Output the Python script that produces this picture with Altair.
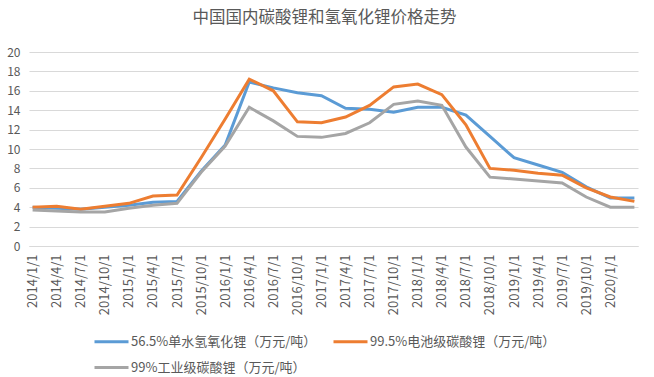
import altair as alt
import pandas as pd

dates = ["2014/1/1", "2014/4/1", "2014/7/1", "2014/10/1",
         "2015/1/1", "2015/4/1", "2015/7/1", "2015/10/1",
         "2016/1/1", "2016/4/1", "2016/7/1", "2016/10/1",
         "2017/1/1", "2017/4/1", "2017/7/1", "2017/10/1",
         "2018/1/1", "2018/4/1", "2018/7/1", "2018/10/1",
         "2019/1/1", "2019/4/1", "2019/7/1", "2019/10/1",
         "2020/1/1", "2020/4/1"]

lioh = [4.0, 3.9, 3.8, 4.0, 4.2, 4.5, 4.6, 7.7, 10.4, 16.9, 16.3, 15.8, 15.5,
        14.2, 14.1, 13.8, 14.3, 14.3, 13.5, 11.3, 9.1, 8.35, 7.6, 6.1, 4.95, 4.95]
battery = [4.0, 4.1, 3.8, 4.1, 4.4, 5.15, 5.25, 9.1, 13.1, 17.2, 16.0, 12.8, 12.7,
           13.3, 14.5, 16.4, 16.7, 15.6, 12.5, 8.0, 7.8, 7.5, 7.3, 6.0, 5.05, 4.6]
industrial = [3.7, 3.6, 3.5, 3.5, 3.9, 4.2, 4.4, 7.6, 10.3, 14.3, 12.9, 11.3, 11.2,
              11.6, 12.7, 14.6, 14.95, 14.5, 10.2, 7.1, 6.9, 6.7, 6.5, 5.05, 4.0, 4.0]

series_names = ["56.5%单水氢氧化锂（万元/吨）", "99.5%电池级碳酸锂（万元/吨）", "99%工业级碳酸锂（万元/吨）"]
series_colors = ["#5B9BD5", "#ED7D31", "#A5A5A5"]
y_ticks = [0, 2, 4, 6, 8, 10, 12, 14, 16, 18, 20]

rows = []
for k, (name, vals) in enumerate(zip(series_names, [lioh, battery, industrial])):
    for d, v in zip(dates, vals):
        rows.append({"date": d, "series": name, "rank": k, "value": v})
df = pd.DataFrame(rows)

font = "Noto Sans CJK SC"
grey_text = "#595959"

chart = alt.Chart(df).mark_line(strokeWidth=3).encode(
    x=alt.X("date:O", sort=dates,
            scale=alt.Scale(type="point", padding=0.15),
            axis=alt.Axis(title=None, values=dates[:-1], labelAngle=270,
                          labelFontSize=13, labelColor=grey_text, labelFont=font,
                          ticks=False, domainColor="#D9D9D9", labelPadding=8,
                          grid=False)),
    y=alt.Y("value:Q", scale=alt.Scale(domain=[0, 20], nice=False),
            axis=alt.Axis(title=None, values=y_ticks, labelFontSize=12,
                          labelColor=grey_text, labelFont=font, ticks=False,
                          domain=False, gridColor="#D9D9D9", labelPadding=9)),
    color=alt.Color("series:N", sort=series_names,
                    scale=alt.Scale(domain=series_names, range=series_colors),
                    legend=alt.Legend(title=None, orient="none", legendX=64, legendY=271,
                                      direction="horizontal", columns=2,
                                      symbolType="stroke", symbolSize=1156,
                                      symbolStrokeWidth=3, labelFontSize=13,
                                      labelLimit=400,
                                      labelColor=grey_text, labelFont=font,
                                      labelOffset=1, columnPadding=10, rowPadding=-8)),
    order=alt.Order("rank:Q"),
).properties(
    width=609, height=194,
    padding={"left": 29, "top": 52, "right": 16, "bottom": 131},
    autosize=alt.AutoSizeParams(type="none"),
    title=alt.TitleParams("中国国内碳酸锂和氢氧化锂价格走势", font=font, fontSize=16.5,
                          fontWeight="normal", color=grey_text, offset=20,
                          anchor="middle", dx=-9),
).configure_view(stroke=None)

chart.save("out.html", embed_options={"renderer": "svg", "actions": False})
